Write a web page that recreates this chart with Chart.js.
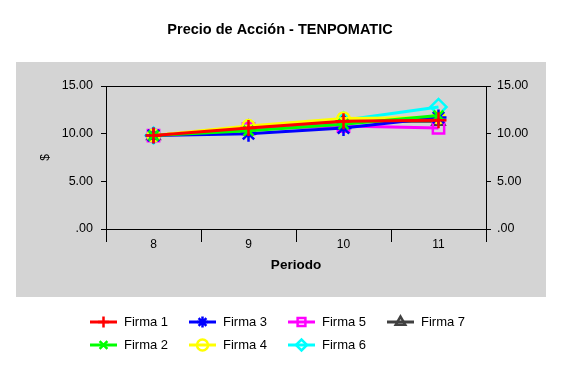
<!DOCTYPE html>
<html>
<head>
<meta charset="utf-8">
<title>Precio de Acción - TENPOMATIC</title>
<style>
  body { margin: 0; background: #fff; }
</style>
</head>
<body>
<canvas id="my-chart" width="562" height="372"></canvas>
<script src="https://cdn.jsdelivr.net/npm/chart.js@4.4.1/dist/chart.umd.min.js"></script>
<script>
'use strict';

// *************** DATA
let periods = ['8', '9', '10', '11'];
let firmaNames = ['Firma 1', 'Firma 2', 'Firma 3', 'Firma 4', 'Firma 5', 'Firma 6', 'Firma 7'];
let firma1 = [9.8, 10.6, 11.3, 11.4];
let firma2 = [9.8, 10.3, 11.0, 11.9];
let firma3 = [9.8, 10.0, 10.6, 11.7];
let firma4 = [9.8, 10.8, 11.6, 11.7];
let firma5 = [9.8, 10.5, 10.8, 10.6];
let firma6 = [9.8, 10.5, 11.4, 12.8];
let firma7 = [9.8, 10.6, 11.3, 11.3];
let yTicks = [0, 5, 10, 15];

// *************** STYLES
let lineColors = ['#ff0000', '#00ff00', '#0000ff', '#ffff00', '#ff00ff', '#00ffff', '#404040'];
let markerStyles = ['cross', 'crossRot', 'star', 'circle', 'rect', 'rectRot', 'triangle'];
let markerSizes = [8, 7, 8, 6, 8, 8, 7];

Chart.defaults.font.family = '"Liberation Sans", Arial, sans-serif';
Chart.defaults.color = '#000';

// *************** HELPERS
function formatTick(value) {
  return value === 0 ? '.00' : value.toFixed(2);
}

function setTicks(scale) {
  scale.ticks = yTicks.map(v => ({ value: v }));
}

// gray plot background + top edge of the frame
let plotFrame = {
  id: 'plotFrame',
  beforeDraw(chart) {
    let ctx = chart.ctx;
    ctx.save();
    ctx.fillStyle = '#d4d4d4';
    ctx.fillRect(16, 62, 530, 235);
    ctx.restore();
  },
  beforeDatasetsDraw(chart) {
    let { ctx, chartArea } = chart;
    ctx.save();
    ctx.strokeStyle = '#000';
    ctx.lineWidth = 1;
    ctx.beginPath();
    ctx.moveTo(chartArea.left, chartArea.top + 0.5);
    ctx.lineTo(chartArea.right, chartArea.top + 0.5);
    ctx.stroke();
    ctx.restore();
  }
};

// legend in columns (Firma 1 over Firma 2, etc.), line with marker
let columnLegend = {
  id: 'columnLegend',
  afterDraw(chart) {
    let ctx = chart.ctx;
    chart.data.datasets.forEach((ds, i) => {
      let x = 90 + Math.floor(i / 2) * 99;
      let y = 322 + (i % 2) * 23;
      ctx.save();
      ctx.strokeStyle = ds.borderColor;
      ctx.fillStyle = 'rgba(0,0,0,0)';
      ctx.lineWidth = 3;
      ctx.beginPath();
      ctx.moveTo(x, y);
      ctx.lineTo(x + 27, y);
      ctx.stroke();
      ctx.lineWidth = 2.5;
      Chart.helpers.drawPoint(ctx, { pointStyle: ds.pointStyle, radius: 5.5, rotation: 0, borderWidth: 2.5 }, x + 13.5, y);
      ctx.fillStyle = '#000';
      ctx.font = '13px "Liberation Sans", Arial, sans-serif';
      ctx.textBaseline = 'middle';
      ctx.textAlign = 'left';
      ctx.fillText(ds.label, x + 34, y);
      ctx.restore();
    });
  }
};

// *************** CHART
let seriesValues = [firma1, firma2, firma3, firma4, firma5, firma6, firma7];
let datasets = firmaNames.map((name, i) => ({
  label: name,
  data: seriesValues[i],
  borderColor: lineColors[i],
  backgroundColor: lineColors[i],
  borderWidth: 3,
  tension: 0,
  pointStyle: markerStyles[i],
  pointRadius: markerSizes[i],
  pointBorderWidth: 2.5,
  pointBorderColor: lineColors[i],
  pointBackgroundColor: 'rgba(0,0,0,0)'
}));

let yAxisCommon = {
  min: 0,
  max: 15,
  afterBuildTicks: setTicks,
  grid: { drawOnChartArea: false, tickLength: 5, color: '#000' },
  border: { color: '#000' }
};

let chartObj = {
  type: 'line',
  data: { labels: periods, datasets: datasets },
  options: {
    responsive: false,
    animation: false,
    layout: { padding: { left: 18, right: 20, top: 0, bottom: 93 } },
    plugins: {
      legend: { display: false },
      tooltip: { enabled: false },
      title: {
        display: true,
        text: 'Precio de Acción - TENPOMATIC',
        color: '#000',
        font: { size: 14.5, weight: 'bold' },
        padding: { top: 21.6, bottom: 47 }
      }
    },
    scales: {
      x: {
        offset: true,
        grid: { offset: true, drawOnChartArea: false, tickLength: 13, color: '#000' },
        border: { color: '#000' },
        ticks: { color: '#000', font: { size: 12 }, padding: -5 },
        title: {
          display: true,
          text: 'Periodo',
          color: '#000',
          font: { size: 13.5, weight: 'bold' },
          padding: { top: 0, bottom: 5.4 }
        },
        afterFit: (scale) => { scale.height = 50; }
      },
      y: Object.assign({}, yAxisCommon, {
        position: 'left',
        ticks: { color: '#000', font: { size: 12.5 }, padding: 8, callback: formatTick },
        title: { display: true, text: '$', color: '#000', font: { size: 12 }, padding: { top: 20.8, bottom: 0 } },
        afterFit: (scale) => { scale.width = 88; }
      }),
      y2: Object.assign({}, yAxisCommon, {
        position: 'right',
        ticks: { color: '#000', font: { size: 12.5 }, padding: 6, callback: formatTick },
        afterFit: (scale) => { scale.width = 56; }
      })
    }
  },
  plugins: [plotFrame, columnLegend]
};

let ctx = document.getElementById('my-chart').getContext('2d');
let myChart = new Chart(ctx, chartObj); // eslint-disable-line
</script>
</body>
</html>
